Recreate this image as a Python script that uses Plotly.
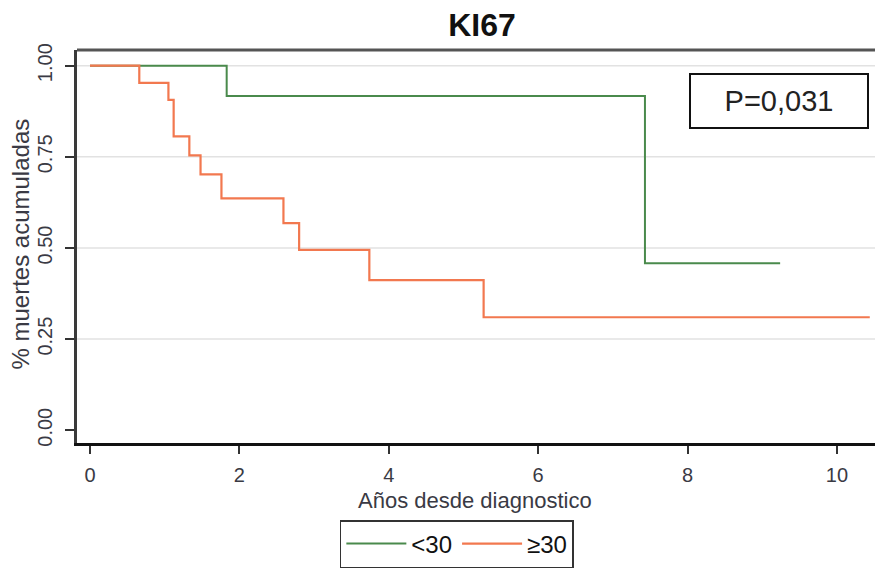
import plotly.graph_objects as go

# Data (Kaplan-Meier style step curves)
t_low = [0.0, 1.83, 7.43, 9.24]
s_low = [1.0, 0.917, 0.458, 0.458]

t_high = [0.0, 0.66, 1.05, 1.12, 1.33, 1.48, 1.76, 2.59, 2.80, 3.74, 5.27, 10.44]
s_high = [1.0, 0.953, 0.906, 0.806, 0.754, 0.702, 0.636, 0.568, 0.495, 0.412, 0.31, 0.31]

x_ticks = [0, 2, 4, 6, 8, 10]
y_ticks = [0.0, 0.25, 0.5, 0.75, 1.0]
y_ticklabels = ["0.00", "0.25", "0.50", "0.75", "1.00"]
grid_vals = [0.25, 0.5, 0.75, 1.0]

green = "#4a8a4c"
orange = "#f2784f"
font_family = "Liberation Sans, Arial, sans-serif"
txt = "#3a3a44"

fig = go.Figure()

for g in grid_vals:
    fig.add_shape(type="line", xref="paper", yref="y", x0=0, x1=1, y0=g, y1=g,
                  line=dict(color="#e2e2e2", width=1.5), layer="below")

fig.add_trace(go.Scatter(x=t_low, y=s_low, mode="lines", line_shape="hv",
                         line=dict(color=green, width=2), name="<30"))
fig.add_trace(go.Scatter(x=t_high, y=s_high, mode="lines", line_shape="hv",
                         line=dict(color=orange, width=2.2), name="≥30"))

fig.update_layout(
    width=875, height=568,
    margin=dict(l=77, r=0, t=50, b=121),
    paper_bgcolor="white", plot_bgcolor="white",
    font=dict(family=font_family, color=txt, size=20),
    title=dict(text="<b>KI67</b>", x=482 / 875, xanchor="center", y=1 - 25 / 568, yanchor="middle",
               font=dict(size=32, color="#111111", family=font_family)),
    showlegend=True,
    legend=dict(orientation="h", x=0.476, xanchor="center", y=-0.196, yanchor="top",
                bordercolor="#333333", borderwidth=1.5, bgcolor="white",
                font=dict(size=24, color="#111111", family=font_family),
                itemwidth=60, tracegroupgap=0),
)

fig.update_xaxes(
    range=[-0.174, 10.51], tickvals=x_ticks, ticks="outside", ticklen=8, tickwidth=2,
    tickcolor="#333333", showgrid=False, zeroline=False,
    showline=True, linecolor="#111111", linewidth=3,
    tickfont=dict(size=20, color=txt), ticklabelstandoff=4,
)
fig.update_yaxes(
    range=[-0.035, 1.043], tickvals=y_ticks, ticktext=y_ticklabels, tickangle=-90,
    ticks="outside", ticklen=9, tickwidth=2, tickcolor="#333333",
    showgrid=False, zeroline=False,
    showline=True, linecolor="#3a3a3a", linewidth=3,
    tickfont=dict(size=20, color=txt), ticklabelstandoff=5,
)

# axis titles
fig.add_annotation(xref="paper", yref="paper", x=0.499, y=(447 - 505) / 397,
                   xanchor="center", yanchor="middle", showarrow=False,
                   text="Años desde diagnostico", font=dict(size=22, color=txt))
fig.add_annotation(xref="paper", yref="paper", x=(21 - 77) / 798, y=0.505,
                   xanchor="center", yanchor="middle", showarrow=False, textangle=-90,
                   text="% muertes acumuladas", font=dict(size=24, color=txt))

# top frame line
fig.add_shape(type="line", xref="paper", yref="paper", x0=0, x1=1, y0=1, y1=1,
              line=dict(color="#555555", width=3))

# p-value box
fig.add_annotation(xref="paper", yref="paper", x=(869 - 77) / 798, y=(447 - 73) / 397,
                   xanchor="right", yanchor="top",
                   text="P=0,031", showarrow=False,
                   font=dict(size=29, color="#222222", family=font_family),
                   bordercolor="#111111", borderwidth=2, borderpad=2, bgcolor="white",
                   width=172, height=48)

fig.write_html("out.html")
